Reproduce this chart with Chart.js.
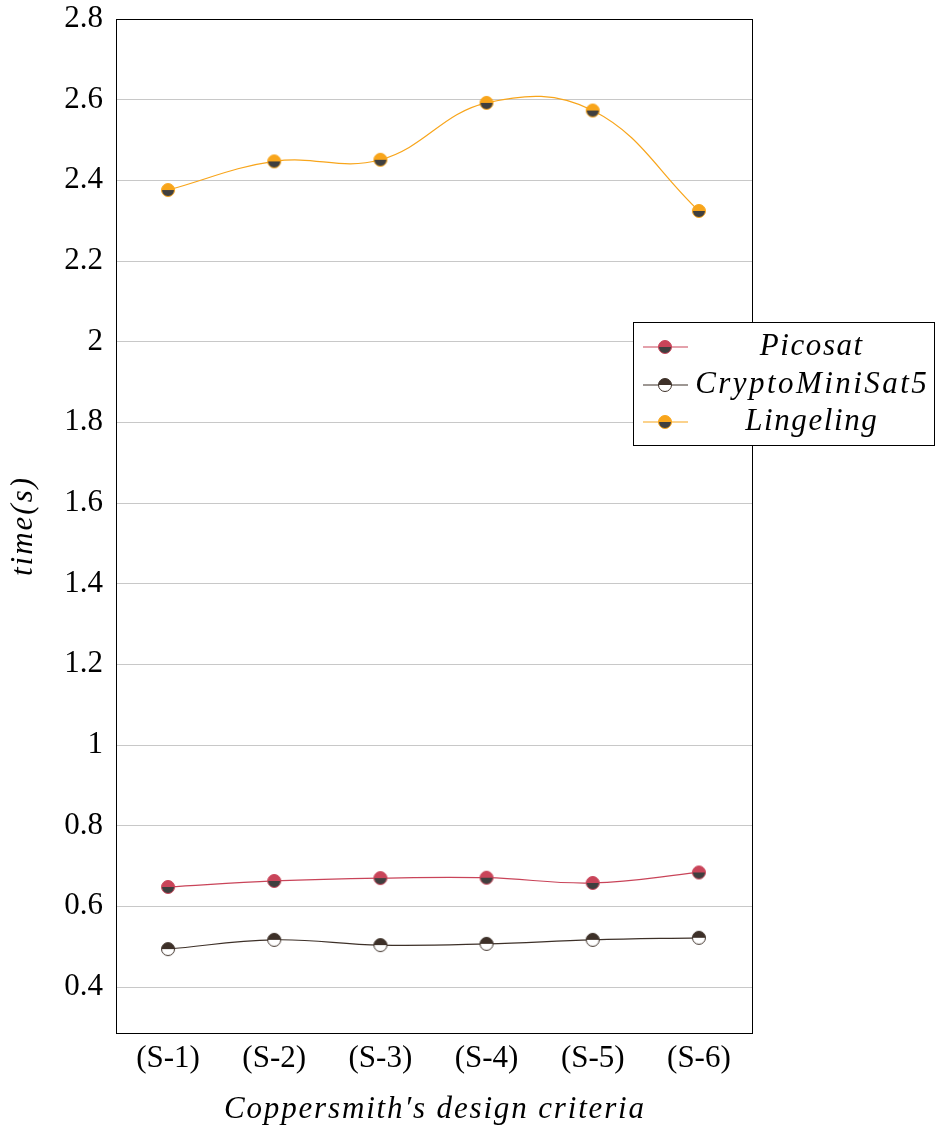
<!DOCTYPE html>
<html>
<head>
<meta charset="utf-8">
<script src="https://cdn.jsdelivr.net/npm/chart.js@4.4.0/dist/chart.umd.min.js"></script>
<style>
  html, body { margin: 0; padding: 0; background: #fff; }
  #wrap { width: 935px; height: 1131px; position: relative; }
</style>
</head>
<body>
<div id="wrap"><canvas id="grafico"></canvas></div>
<script>
// categorias e valores
const categorias = ['(S-1)', '(S-2)', '(S-3)', '(S-4)', '(S-5)', '(S-6)'];
const picosat = [0.648, 0.663, 0.670, 0.671, 0.658, 0.684];
const cryptoMiniSat5 = [0.494, 0.517, 0.504, 0.507, 0.517, 0.522];
const lingeling = [2.376, 2.447, 2.451, 2.592, 2.573, 2.324];
const yTicks = [0.4, 0.6, 0.8, 1, 1.2, 1.4, 1.6, 1.8, 2, 2.2, 2.4, 2.6, 2.8];

const nomes = ['Picosat', 'CryptoMiniSat5', 'Lingeling'];
const cores = ['#c94459', '#3d3028', '#f8a51b'];
const SERIF = '"Liberation Serif", "DejaVu Serif", serif';

// marcador meio preenchido (metade de cima / metade de baixo)
function marcador(cima, baixo, borda) {
    const r = 6.5;
    const c = document.createElement('canvas');
    c.width = 16; c.height = 16;
    const g = c.getContext('2d');
    g.beginPath(); g.arc(8, 8, r, Math.PI, 0); g.closePath();
    g.fillStyle = cima; g.fill();
    g.beginPath(); g.arc(8, 8, r, 0, Math.PI); g.closePath();
    g.fillStyle = baixo; g.fill();
    g.beginPath(); g.arc(8, 8, r, 0, Math.PI * 2);
    g.lineWidth = 1; g.strokeStyle = borda; g.stroke();
    return c;
}

const marcadores = [
    marcador('#c94459', '#3f3f3f', '#c94459'),
    marcador('#3d3028', '#ffffff', '#3d3028'),
    marcador('#f8a51b', '#3f3f3f', '#f8a51b')
];

const series = [picosat, cryptoMiniSat5, lingeling];
const datasets = series.map((vals, i) => ({
    label: nomes[i],
    data: vals.map((v, k) => ({ x: k, y: v })),
    borderColor: cores[i],
    borderWidth: 1.2,
    tension: 0.4,
    pointStyle: marcadores[i],
    pointRadius: 6,
    fill: false
}));

function textoAjustado(g, txt, cx, cy, largura) {
    g.letterSpacing = '0px';
    const w = g.measureText(txt).width;
    const ls = (largura - w) / txt.length;
    g.letterSpacing = ls + 'px';
    g.fillText(txt, cx + ls / 2, cy);
    g.letterSpacing = '0px';
}

const extras = {
    id: 'extras',
    afterDraw(chart) {
        const g = chart.ctx;
        const a = chart.chartArea;
        g.save();
        // borda do eixo
        g.strokeStyle = '#000';
        g.lineWidth = 1;
        g.strokeRect(a.left + 0.5, a.top + 0.5, a.right - a.left, a.bottom - a.top);

        g.fillStyle = '#000';
        g.textAlign = 'center';
        g.textBaseline = 'middle';
        g.font = 'italic 31px ' + SERIF;
        textoAjustado(g, 'Coppersmith\u2032s design criteria', (a.left + a.right) / 2, 1110, 422);

        g.save();
        g.translate(24, 527);
        g.rotate(-Math.PI / 2);
        textoAjustado(g, 'time(s)', 0, 0, 100);
        g.restore();

        // legenda
        const lx = 633.5, ly = 322.5, lw = 301, lh = 123;
        g.fillStyle = '#fff';
        g.fillRect(lx, ly, lw, lh);
        g.strokeStyle = '#000';
        g.strokeRect(lx, ly, lw, lh);
        const linhas = [347, 385, 422];
        const larguras = [104, 234, 133];
        nomes.forEach((n, i) => {
            g.strokeStyle = cores[i];
            g.lineWidth = 1.2;
            g.beginPath();
            g.moveTo(643, linhas[i]);
            g.lineTo(688, linhas[i]);
            g.stroke();
            g.drawImage(marcadores[i], 665 - 8, linhas[i] - 8);
            g.fillStyle = '#000';
            g.font = 'italic 31px ' + SERIF;
            textoAjustado(g, n, 811, linhas[i], larguras[i]);
        });
        g.restore();
    }
};

new Chart(document.getElementById('grafico'), {
    type: 'line',
    data: { datasets },
    options: {
        responsive: true,
        maintainAspectRatio: false,
        animation: false,
        layout: { padding: { top: 19, right: 183, left: 0, bottom: 0 } },
        plugins: {
            legend: { display: false },
            tooltip: { enabled: false }
        },
        scales: {
            x: {
                type: 'linear',
                min: -0.49,
                max: 5.5,
                afterFit: s => { s.height = 98; s.paddingLeft = 0; s.paddingRight = 0; },
                afterBuildTicks: s => { s.ticks = categorias.map((c, i) => ({ value: i })); },
                grid: { display: false, drawTicks: false },
                border: { display: false },
                ticks: {
                    padding: 7,
                    color: '#000',
                    font: { family: SERIF, size: 31 },
                    callback: v => categorias[v]
                }
            },
            y: {
                min: 0.286,
                max: 2.8,
                afterFit: s => { s.width = 116; s.paddingTop = 0; s.paddingBottom = 0; },
                afterBuildTicks: s => { s.ticks = yTicks.map(v => ({ value: v })); },
                grid: { color: '#c8c8c8', lineWidth: 1, drawTicks: false },
                border: { display: false },
                ticks: {
                    padding: 13,
                    color: '#000',
                    font: { family: SERIF, size: 31 },
                    callback: v => String(v)
                }
            }
        }
    },
    plugins: [extras]
});
</script>
</body>
</html>
